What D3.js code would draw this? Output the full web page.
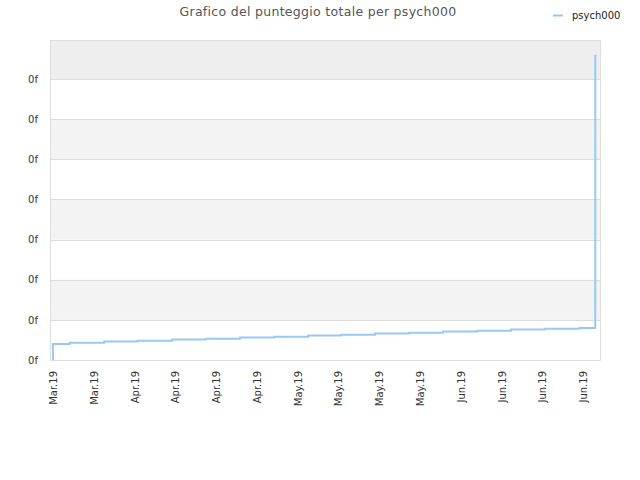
<!DOCTYPE html>
<html>
<head>
<meta charset="utf-8">
<script src="https://cdn.jsdelivr.net/npm/d3@7"></script>
<style>
  body { margin: 0; background: #fff; }
  text { font-family: "DejaVu Sans", sans-serif; }
</style>
</head>
<body>
<svg id="chart" width="640" height="480"></svg>
<script>
// data (score values, y labels all show "0f")
var seriesName = "psych000";
var pointDates = [
  "2019-03-23T00:00", "2019-03-23T00:00", "2019-03-26T02:00", "2019-04-01T10:00",
  "2019-04-07T14:00", "2019-04-13T22:00", "2019-04-20T02:00", "2019-04-26T10:00",
  "2019-05-02T17:00", "2019-05-08T22:00", "2019-05-15T00:00", "2019-05-21T05:00",
  "2019-05-27T12:00", "2019-06-02T17:00", "2019-06-09T00:00", "2019-06-15T05:00",
  "2019-06-21T12:00", "2019-06-27T19:00", "2019-06-30T17:00", "2019-06-30T17:05",
  "2019-06-30T17:10", "2019-06-30T17:15", "2019-06-30T17:20", "2019-06-30T17:25"
];
var pointValues = [
  0, 0.40, 0.43, 0.46,
  0.48, 0.51, 0.53, 0.56,
  0.58, 0.61, 0.63, 0.66,
  0.68, 0.71, 0.73, 0.76,
  0.78, 0.80, 1.17, 1.79,
  2.39, 3.79, 5.61, 7.60
];
var yTicks = [0, 1, 2, 3, 4, 5, 6, 7];
var yTickLabel = "0f";
var xTickDates = [
  "2019-03-23T00:00", "2019-03-30T12:00", "2019-04-07T00:00", "2019-04-14T12:00",
  "2019-04-22T00:00", "2019-04-29T12:00", "2019-05-07T00:00", "2019-05-14T12:00",
  "2019-05-22T00:00", "2019-05-29T12:00", "2019-06-06T00:00", "2019-06-13T12:00",
  "2019-06-21T00:00", "2019-06-28T12:00"
];
var xDomain = ["2019-03-22T11:00", "2019-07-01T14:00"];
var yMax = 7.97;

var parse = d3.timeParse("%Y-%m-%dT%H:%M");
var fmt = d3.timeFormat("%b.%y");

var margin = { top: 40, right: 40, bottom: 120, left: 50 };
var width = 640 - margin.left - margin.right;
var height = 480 - margin.top - margin.bottom;

var svg = d3.select("#chart");

var data = pointDates.map(function(d, i) {
  return { date: parse(d), value: pointValues[i] };
});

var x = d3.scaleTime()
  .domain(xDomain.map(parse))
  .range([0, width]);

var y = d3.scaleLinear()
  .domain([0, yMax])
  .range([height, 0]);

var g = svg.append("g")
  .attr("transform", `translate(${margin.left}, ${margin.top})`);

// alternating background bands
var bandEdges = yTicks.concat([yMax]);
for (var i = 0; i < bandEdges.length - 1; i++) {
  if (i % 2 === 0) continue;
  g.append("rect")
    .attr("x", 0)
    .attr("width", width)
    .attr("y", y(bandEdges[i + 1]))
    .attr("height", y(bandEdges[i]) - y(bandEdges[i + 1]))
    .attr("fill", i === bandEdges.length - 2 ? "#eeeeee" : "#f3f3f3");
}

// horizontal grid lines
g.selectAll(".grid")
  .data(yTicks)
  .enter().append("line")
  .attr("x1", 0)
  .attr("x2", width)
  .attr("y1", d => Math.round(y(d)) + 0.5)
  .attr("y2", d => Math.round(y(d)) + 0.5)
  .attr("stroke", "#dddddd");

// frame
g.append("rect")
  .attr("x", 0.5)
  .attr("y", 0.5)
  .attr("width", width)
  .attr("height", height)
  .attr("fill", "none")
  .attr("stroke", "#dddddd");

// y axis labels
var yAxis = d3.axisLeft(y)
  .tickValues(yTicks)
  .tickSize(0)
  .tickPadding(12)
  .tickFormat(() => yTickLabel);

g.append("g")
  .call(yAxis)
  .call(a => a.select(".domain").remove())
  .selectAll("text")
  .attr("font-family", "DejaVu Sans, sans-serif")
  .attr("font-size", 10)
  .attr("fill", "#333");

// x axis labels
var xAxis = d3.axisBottom(x)
  .tickValues(xTickDates.map(parse))
  .tickSize(0)
  .tickFormat(fmt);

g.append("g")
  .attr("transform", `translate(0, ${height})`)
  .call(xAxis)
  .call(a => a.select(".domain").remove())
  .selectAll("text")
  .attr("font-family", "DejaVu Sans, sans-serif")
  .attr("font-size", 10)
  .attr("fill", "#333")
  .attr("text-anchor", "end")
  .attr("transform", "rotate(-90)")
  .attr("x", -11)
  .attr("y", 0)
  .attr("dy", "0.35em");

// score line
var line = d3.line()
  .x(d => x(d.date))
  .y(d => y(d.value))
  .curve(d3.curveStepAfter);

g.append("path")
  .datum(data)
  .attr("fill", "none")
  .attr("stroke", "#99c8f5")
  .attr("stroke-width", 2)
  .attr("d", line);

// title
svg.append("text")
  .attr("x", 318)
  .attr("y", 16)
  .attr("text-anchor", "middle")
  .attr("font-size", 12.5)
  .attr("letter-spacing", 0.3)
  .attr("fill", "#555")
  .text("Grafico del punteggio totale per psych000");

// legend
svg.append("line")
  .attr("x1", 553)
  .attr("x2", 563)
  .attr("y1", 15.5)
  .attr("y2", 15.5)
  .attr("stroke", "#99c8f5")
  .attr("stroke-width", 2);

svg.append("text")
  .attr("x", 572)
  .attr("y", 19)
  .attr("font-size", 10)
  .attr("fill", "#222")
  .text(seriesName);
</script>
</body>
</html>
